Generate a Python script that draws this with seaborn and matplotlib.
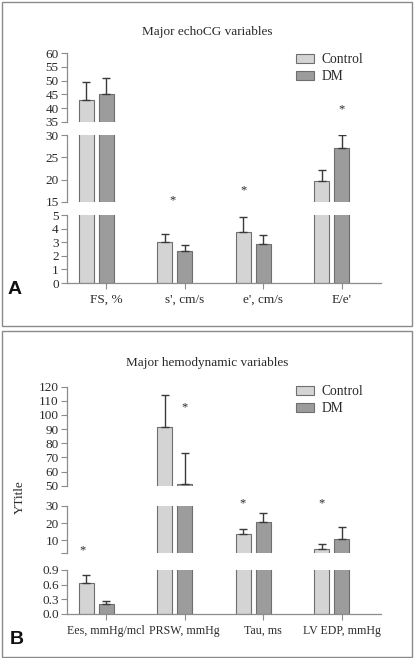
import pandas as pd
import matplotlib.pyplot as plt
import seaborn as sns
from matplotlib.patches import Patch, Rectangle

# ---- data ----
groups = ['Control', 'DM']

echo_cats = ["FS, %", "s', cm/s", "e', cm/s", "E/e'"]
echo_control = [42.9, 3.04, 3.77, 19.6]
echo_dm = [45.1, 2.38, 2.87, 27.2]
echo_control_err = [6.7, 0.56, 1.08, 2.6]
echo_dm_err = [5.9, 0.41, 0.63, 2.9]
# significance marks: category, y value, axis segment (0 top, 1 mid, 2 bottom)
echo_star_cat = [1, 2, 3]
echo_star_y = [15.3, 17.6, 39.6]
echo_star_seg = [1, 1, 0]

hemo_cats = ['Ees, mmHg/mcl', 'PRSW, mmHg', 'Tau, ms', 'LV EDP, mmHg']
hemo_control = [0.627, 91.2, 13.8, 4.7]
hemo_dm = [0.198, 51.4, 20.5, 10.8]
hemo_control_err = [0.163, 22.7, 2.5, 3.4]
hemo_dm_err = [0.068, 21.9, 5.3, 6.8]
hemo_star_cat = [0, 1, 2, 3]
hemo_star_y = [4.0, 105.2, 31.3, 31.3]
hemo_star_seg = [1, 0, 1, 1]

echo_ylims = [(35, 60), (15, 30), (0, 5)]
echo_ticks = [[35, 40, 45, 50, 55, 60], [15, 20, 25, 30], [0, 1, 2, 3, 4, 5]]
echo_ticklabels = [None, None, None]
hemo_ylims = [(50, 120), (2.5, 30), (0, 0.9)]
hemo_ticks = [[50, 60, 70, 80, 90, 100, 110, 120], [2.5, 10, 20, 30], [0.0, 0.3, 0.6, 0.9]]
hemo_ticklabels = [None, ['', '10', '20', '30'], ['0.0', '0.3', '0.6', '0.9']]

# ---- style ----
sns.set_theme(style='white')
plt.rcParams['font.family'] = ['Liberation Serif', 'DejaVu Serif']

W, H = 415, 658
fig = plt.figure(figsize=(W / 100, H / 100), dpi=100)

palette = {'Control': '#d4d4d4', 'DM': '#9c9c9c', 'pad': 'white'}
axis_col = '#8c8c8c'
text_col = '#2a2a2a'


def fx(px):
    return px / W


def draw_panel(cats, ctrl, dm, ctrl_err, dm_err, ylims, ticks, ticklabels,
               rows, star_cat, star_y, star_seg, star_pos, xlabel_size):
    df = pd.DataFrame({
        'category': cats * 2,
        'group': ['Control'] * len(cats) + ['DM'] * len(cats),
        'value': ctrl + dm,
    })
    axes = []
    for k, (top, bot) in enumerate(rows):
        ax = fig.add_axes([fx(67), 1 - bot / H, fx(381 - 67), (bot - top) / H])
        sns.barplot(data=df, x='category', y='value', hue='group',
                    hue_order=['Control', 'DM', 'pad'], palette=palette,
                    width=0.765, gap=0.27, edgecolor='#6e6e6e', linewidth=0.8,
                    errorbar=None, legend=False, ax=ax)
        for cont, vals, errs in zip(ax.containers[:2], [ctrl, dm], [ctrl_err, dm_err]):
            xs = [p.get_x() + p.get_width() / 2 for p in cont.patches]
            ax.errorbar(xs, vals, yerr=[[0] * len(errs), errs], fmt='none',
                        ecolor='#3a3a3a', elinewidth=1.0, capsize=3.2,
                        capthick=1.0, zorder=3)
        ax.set_xlim(-0.5, len(cats) - 0.5)
        ax.set_ylim(*ylims[k])
        ax.set_yticks(ticks[k])
        if ticklabels[k] is not None:
            ax.set_yticklabels(ticklabels[k])
        ax.set_xlabel('')
        ax.set_ylabel('')
        ax.patch.set_alpha(0)
        for s in ['top', 'right']:
            ax.spines[s].set_visible(False)
        ax.spines['left'].set_color(axis_col)
        ax.spines['left'].set_linewidth(0.9)
        ax.tick_params(axis='y', direction='out', length=4, width=0.8,
                       color=axis_col, labelcolor=text_col, labelsize=9.5, pad=2, left=True)
        if k < len(rows) - 1:
            ax.spines['bottom'].set_visible(False)
            ax.set_xticks([])
        else:
            ax.spines['bottom'].set_color(axis_col)
            ax.spines['bottom'].set_linewidth(0.9)
            ax.tick_params(axis='x', direction='out', length=4, width=0.8,
                           color=axis_col, labelcolor=text_col, labelsize=xlabel_size,
                           pad=4, bottom=True)
        axes.append(ax)
    for c, y, s, pos in zip(star_cat, star_y, star_seg, star_pos):
        axes[s].text(c + pos, y, '*', ha='center', va='center', fontsize=9,
                     color=text_col, clip_on=False)
    return axes


# panel A
draw_panel(echo_cats, echo_control, echo_dm, echo_control_err, echo_dm_err,
           echo_ylims, echo_ticks, echo_ticklabels,
           [(53, 122), (135, 202), (215, 283)],
           echo_star_cat, echo_star_y, echo_star_seg, [-0.155, -0.25, 0.0], 9.5)

# panel B
draw_panel(hemo_cats, hemo_control, hemo_dm, hemo_control_err, hemo_dm_err,
           hemo_ylims, hemo_ticks, hemo_ticklabels,
           [(386.7, 485.7), (505.7, 553.3), (570, 614)],
           hemo_star_cat, hemo_star_y, hemo_star_seg, [-0.30, 0.0, -0.26, -0.26], 8.6)

# titles, legends, labels, frames
handles = [Patch(facecolor=palette[g], edgecolor='#6e6e6e', linewidth=0.8) for g in groups]
for title, ty, ly in [('Major echoCG variables', 32, 53), ('Major hemodynamic variables', 363, 385)]:
    fig.text(fx(207), 1 - ty / H, title, ha='center', va='center', fontsize=9.5, color=text_col)
    fig.legend(handles, groups, loc='upper left', bbox_to_anchor=(fx(296), 1 - ly / H),
               frameon=False, fontsize=9.8, handlelength=1.3, handleheight=0.65,
               handletextpad=0.6, labelspacing=0.3, borderpad=0, borderaxespad=0,
               labelcolor=text_col)

fig.text(fx(20), 1 - 497 / H, 'YTitle', rotation=90, ha='center', va='center',
         fontsize=9.5, color=text_col)

fig.text(fx(15), 1 - 289 / H, 'A', ha='center', va='center', fontsize=14,
         fontweight='bold', family=['Liberation Sans', 'DejaVu Sans'], color='#111111')
fig.text(fx(17), 1 - 640 / H, 'B', ha='center', va='center', fontsize=14,
         fontweight='bold', family=['Liberation Sans', 'DejaVu Sans'], color='#111111')

for top, bot in [(1.5, 326), (331, 657)]:
    fig.add_artist(Rectangle((fx(1.5), 1 - bot / H), fx(410), (bot - top) / H,
                             transform=fig.transFigure, fill=False,
                             edgecolor='#8a8a8a', linewidth=1.0))

fig.savefig('out.png', dpi=100)
